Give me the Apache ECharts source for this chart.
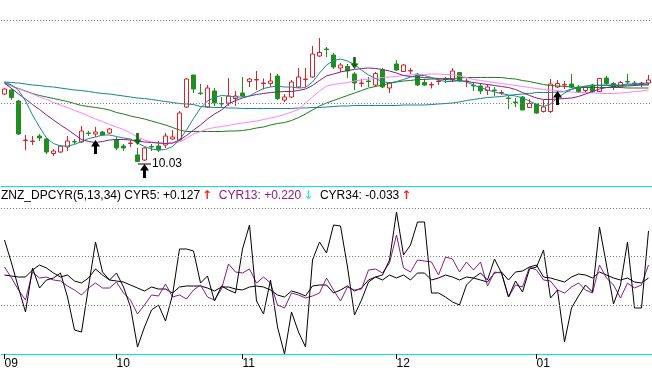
<!DOCTYPE html>
<html><head><meta charset="utf-8">
<script src="https://cdn.jsdelivr.net/npm/echarts@6/dist/echarts.min.js"></script>
<style>html,body{margin:0;padding:0;background:#fff}#c{width:652px;height:370px}</style>
</head><body><div id="c"></div><script>
const opens = [10.71,10.75,10.64,10.245,10.235,10.29,10.26,10.115,10.13,10.18,
10.235,10.23,10.32,10.31,10.33,10.32,10.25,10.19,10.215,10.10,
10.05,10.185,10.19,10.20,10.26,10.25,10.58,10.90,10.72,10.58,
10.74,10.615,10.62,10.665,10.72,10.835,10.85,10.815,10.815,10.89,
10.65,10.68,10.78,10.855,10.88,11.09,11.16,11.10,10.97,10.985,
10.91,10.815,10.84,10.80,10.95,10.77,11.01,10.935,10.94,10.91,
10.825,10.80,10.835,10.86,10.855,10.925,10.835,10.795,10.79,10.745,
10.75,10.72,10.67,10.63,10.68,10.575,10.61,10.535,10.535,10.78,
10.80,10.81,10.78,10.745,10.80,10.735,10.87,10.815,10.78,10.835,
10.82,10.815,10.82];
const closes = [10.76,10.675,10.31,10.25,10.24,10.27,10.13,10.14,10.19,10.24,
10.23,10.34,10.315,10.33,10.30,10.36,10.17,10.17,10.22,10.035,
10.17,10.18,10.15,10.29,10.28,10.52,10.86,10.76,10.715,10.77,
10.62,10.61,10.69,10.69,10.69,10.86,10.855,10.82,10.84,10.665,
10.68,10.83,10.88,10.86,11.11,11.125,11.155,10.98,11.00,10.94,
10.82,10.82,10.835,10.915,10.78,10.82,10.95,11.00,10.945,10.80,
10.80,10.805,10.84,10.855,10.94,10.84,10.84,10.79,10.74,10.78,
10.745,10.725,10.665,10.625,10.55,10.615,10.52,10.58,10.81,10.815,
10.805,10.78,10.735,10.775,10.735,10.865,10.815,10.775,10.825,10.83,
10.815,10.82,10.85];
const lows = [10.70,10.65,10.30,10.15,10.20,10.24,10.11,10.09,10.12,10.14,
10.21,10.22,10.29,10.28,10.29,10.31,10.15,10.14,10.18,10.03,
10.04,10.14,10.13,10.17,10.25,10.24,10.57,10.72,10.70,10.57,
10.59,10.58,10.59,10.59,10.68,10.78,10.75,10.755,10.78,10.65,
10.63,10.67,10.77,10.78,10.87,11.08,11.08,10.96,10.93,10.87,
10.75,10.78,10.78,10.78,10.77,10.72,10.94,10.93,10.91,10.79,
10.79,10.765,10.80,10.82,10.83,10.83,10.78,10.74,10.71,10.70,
10.69,10.70,10.56,10.58,10.55,10.57,10.51,10.525,10.52,10.77,
10.76,10.77,10.72,10.72,10.72,10.73,10.80,10.75,10.77,10.81,
10.79,10.78,10.80];
const highs = [10.77,10.77,10.65,10.30,10.29,10.31,10.27,10.16,10.20,10.29,
10.26,10.39,10.34,10.38,10.34,10.37,10.28,10.21,10.25,10.17,
10.18,10.21,10.24,10.32,10.35,10.54,10.87,10.90,10.81,10.80,
10.77,10.68,10.87,10.74,10.88,10.87,10.94,10.865,10.92,10.91,
10.71,10.85,10.97,10.97,11.19,11.27,11.18,11.12,11.02,11.01,
10.93,10.86,10.88,10.93,10.97,10.83,11.05,11.01,10.97,10.92,
10.865,10.83,10.865,10.88,10.97,10.93,10.865,10.83,10.82,10.81,
10.78,10.75,10.69,10.67,10.69,10.66,10.61,10.65,10.86,10.85,
10.84,10.91,10.80,10.78,10.81,10.87,10.89,10.83,10.84,10.91,
10.84,10.83,10.90];

const ma5 = [10.83,10.80,10.75,10.64,10.50,10.38,10.27,10.215,10.19,10.19,
10.205,10.235,10.265,10.28,10.30,10.30,10.285,10.27,10.26,10.22,
10.185,10.16,10.15,10.155,10.185,10.25,10.35,10.465,10.57,10.64,
10.675,10.695,10.69,10.68,10.68,10.69,10.73,10.765,10.78,10.79,
10.78,10.78,10.77,10.775,10.83,10.92,11.00,11.045,11.06,11.04,
11.005,10.95,10.90,10.865,10.835,10.82,10.835,10.855,10.88,10.895,
10.895,10.875,10.85,10.835,10.835,10.845,10.83,10.80,10.775,10.75,
10.73,10.715,10.70,10.69,10.67,10.64,10.605,10.585,10.61,10.67,
10.72,10.755,10.775,10.79,10.795,10.80,10.80,10.80,10.80,10.81,
10.81,10.815,10.82];
const ma10 = [10.82,10.765,10.71,10.66,10.605,10.555,10.50,10.45,10.40,10.355,
10.305,10.255,10.235,10.225,10.235,10.25,10.255,10.255,10.25,10.24,
10.23,10.225,10.22,10.215,10.22,10.25,10.295,10.35,10.40,10.46,
10.51,10.55,10.61,10.645,10.67,10.69,10.705,10.715,10.725,10.73,
10.735,10.735,10.745,10.76,10.795,10.845,10.89,10.91,10.93,10.945,
10.955,10.965,10.97,10.965,10.955,10.94,10.92,10.895,10.885,10.88,
10.875,10.87,10.865,10.855,10.85,10.845,10.835,10.825,10.815,10.805,
10.795,10.785,10.775,10.755,10.725,10.695,10.67,10.655,10.655,10.66,
10.665,10.67,10.685,10.71,10.735,10.76,10.775,10.785,10.79,10.79,
10.795,10.80,10.80];
const ma20 = [10.81,10.79,10.765,10.735,10.71,10.68,10.655,10.625,10.60,10.575,
10.545,10.52,10.49,10.46,10.435,10.405,10.38,10.355,10.32,10.28,
10.25,10.23,10.22,10.215,10.22,10.23,10.265,10.31,10.335,10.36,
10.375,10.385,10.395,10.41,10.42,10.43,10.44,10.455,10.47,10.485,
10.505,10.53,10.555,10.62,10.68,10.74,10.79,10.805,10.815,10.825,
10.84,10.85,10.86,10.865,10.875,10.88,10.885,10.895,10.90,10.905,
10.905,10.91,10.91,10.905,10.905,10.89,10.875,10.855,10.845,10.835,
10.825,10.815,10.805,10.795,10.785,10.775,10.765,10.755,10.75,10.745,
10.735,10.73,10.725,10.725,10.72,10.715,10.715,10.715,10.72,10.725,
10.735,10.74,10.75];
const ma30 = [10.82,10.79,10.765,10.74,10.715,10.695,10.68,10.665,10.65,10.635,
10.615,10.595,10.585,10.575,10.565,10.55,10.525,10.51,10.49,10.475,
10.46,10.44,10.42,10.40,10.375,10.35,10.335,10.335,10.335,10.335,
10.335,10.335,10.34,10.34,10.345,10.355,10.37,10.38,10.40,10.415,
10.425,10.445,10.475,10.51,10.55,10.59,10.62,10.645,10.67,10.695,
10.72,10.745,10.77,10.785,10.80,10.815,10.83,10.84,10.845,10.855,
10.855,10.86,10.86,10.865,10.865,10.87,10.875,10.875,10.875,10.875,
10.875,10.875,10.865,10.86,10.845,10.835,10.82,10.805,10.795,10.79,
10.785,10.78,10.775,10.775,10.775,10.775,10.775,10.775,10.775,10.77,
10.77,10.77,10.77];
const ma60 = [10.83,10.825,10.82,10.81,10.80,10.795,10.785,10.78,10.77,10.76,
10.75,10.745,10.735,10.725,10.715,10.71,10.70,10.69,10.68,10.67,
10.665,10.655,10.645,10.635,10.625,10.615,10.61,10.605,10.585,10.58,
10.575,10.575,10.57,10.57,10.565,10.565,10.565,10.565,10.565,10.565,
10.565,10.565,10.57,10.57,10.575,10.575,10.58,10.585,10.59,10.59,
10.595,10.595,10.595,10.595,10.595,10.595,10.595,10.60,10.60,10.60,
10.60,10.605,10.61,10.615,10.62,10.63,10.645,10.655,10.665,10.675,
10.68,10.685,10.695,10.705,10.71,10.715,10.725,10.725,10.725,10.73,
10.735,10.76,10.775,10.785,10.795,10.795,10.795,10.795,10.795,10.80,
10.805,10.805,10.81];

const cyr5 = [0.41,0.18,-0.07,-0.31,0.13,-0.07,0.01,0.03,0.08,-0.16,
-0.49,-0.51,-0.06,0.39,0.09,0.01,0.08,-0.06,-0.26,-0.66,
-0.46,-0.29,-0.24,-0.40,-0.14,0.32,0.32,0.30,-0.02,0.05,
-0.20,-0.05,-0.09,-0.12,0.32,0.56,-0.20,-0.33,0.01,-0.46,
-0.73,-0.31,-0.51,-0.66,0.21,0.39,0.28,0.56,0.55,0.14,
-0.34,-0.19,-0.01,0.04,0.06,0.21,0.69,0.26,0.36,0.59,
0.59,-0.12,-0.12,-0.16,-0.21,-0.24,-0.04,0.03,0.08,0.01,
0.22,0.08,-0.16,0.00,-0.11,0.12,0.14,0.31,-0.17,-0.09,
-0.61,-0.27,-0.15,-0.04,-0.11,0.54,0.16,-0.23,-0.04,0.39,
-0.27,-0.27,0.50];
const cyr13 = [0.14,0.03,-0.09,-0.19,0.09,0.03,0.04,0.01,0.00,-0.05,
-0.09,-0.14,-0.07,-0.02,-0.07,-0.07,-0.01,-0.12,-0.19,-0.33,
-0.24,-0.14,-0.15,-0.03,-0.16,-0.14,-0.18,-0.09,-0.04,-0.16,
-0.19,-0.08,0.17,0.09,0.08,0.12,-0.02,0.04,-0.02,-0.24,
-0.27,-0.12,-0.14,-0.17,-0.15,-0.12,0.03,-0.09,-0.20,-0.06,
-0.09,-0.08,0.11,0.12,0.08,0.18,0.46,0.13,0.09,0.21,
0.20,0.19,0.06,0.24,0.22,0.09,0.19,0.11,0.19,-0.05,
0.09,0.08,-0.16,-0.04,-0.06,0.14,0.11,0.01,0.00,-0.09,
-0.12,-0.06,-0.02,-0.09,-0.12,0.16,0.03,-0.04,-0.17,-0.02,
-0.07,-0.04,0.16];
const cyr34 = [0.06,0.05,0.04,0.04,0.11,0.16,0.13,0.08,0.04,0.06,
0.00,-0.02,0.03,0.12,0.06,0.01,0.00,-0.01,-0.04,-0.07,
-0.10,-0.06,-0.08,-0.08,-0.12,-0.06,-0.05,-0.05,-0.05,-0.07,
-0.10,-0.06,-0.06,-0.08,-0.09,-0.06,-0.05,-0.06,-0.09,-0.14,
-0.16,-0.10,-0.12,-0.15,-0.05,-0.04,-0.04,-0.12,-0.09,-0.05,
-0.10,-0.07,0.01,0.04,0.01,0.06,0.03,0.06,0.01,0.08,
0.08,0.01,0.03,0.06,0.04,0.01,0.04,0.03,0.01,-0.01,
0.08,0.09,0.01,0.09,0.10,0.14,0.16,0.04,0.03,0.01,
-0.01,0.04,0.07,0.06,0.03,0.09,0.06,0.03,0.01,0.03,
-0.01,-0.02,0.03];

const monthIdx = [0, 16, 34, 56, 76];
const monthLbl = ['09', '10', '11', '12', '01'];
const buySignals = [13, 20, 79];
const sellSignals = [19, 50];
const priceGuides = [11.45, 10.62];
const cyrGuides = [0.73, 0.25, -0.24];
const legendVals = ['+0.127', '+0.220', '-0.033'];
const priceRange = [9.79, 11.65];
const cyrRange = [-0.73, 0.73];

const FONT = '"Liberation Sans", Arial, sans-serif';
const RED = '#d8232a', GREEN = '#1f8f1f', CYAN = '#00e5ee';
const cats = opens.map((_, i) => String(i));
const candles = opens.map((o, i) => [o, closes[i], lows[i], highs[i]]);
const lowIdx = lows.indexOf(Math.min(...lows));
const upArrow = 'path://M4.5,0 L9,7 L6,7 L6,15 L3,15 L3,7 L0,7 Z';
const downArrow = 'path://M3,0 L6,0 L6,8 L9,8 L4.5,15 L0,8 L3,8 Z';
const guideStyle = {color: '#7a7a7a', type: [1, 2], width: 1};

function maLine(data, color) {
  return {type: 'line', data, xAxisIndex: 0, yAxisIndex: 0, symbol: 'none', silent: true,
    lineStyle: {color, width: 1}, z: 3};
}
function cyrLine(data, color, extra) {
  return Object.assign({type: 'line', data, xAxisIndex: 1, yAxisIndex: 1, symbol: 'none', silent: true,
    lineStyle: {color, width: 1}}, extra || {});
}
const isMonth = (idx) => monthIdx.indexOf(idx) >= 0;
const txt = {fontSize: 12, fontFamily: FONT, fontWeight: 'normal'};
const arrowTxt = {fontSize: 12, fontWeight: 'bold', fontFamily: '"DejaVu Sans"', padding: [0, 0, 0, 2]};

const chart = echarts.init(document.getElementById('c'), null, {renderer: 'canvas'});
chart.setOption({
  animation: false,
  backgroundColor: '#fff',
  title: {
    left: 1, top: 190, padding: 0,
    text: '{k|ZNZ_DPCYR(5,13,34) CYR5: ' + legendVals[0] + '}{r|↑}{p|  CYR13: ' + legendVals[1] +
      '}{c|↓}{k|  CYR34: ' + legendVals[2] + '}{r|↑}',
    textStyle: {
      fontWeight: 'normal', fontSize: 12, fontFamily: FONT,
      rich: {
        k: Object.assign({color: '#000'}, txt),
        p: Object.assign({color: '#8b1a8b'}, txt),
        r: Object.assign({color: '#ff2020'}, arrowTxt),
        c: Object.assign({color: '#40e0f0'}, arrowTxt)
      }
    }
  },
  grid: [
    {left: 1, right: 0, top: 0, height: 186, containLabel: false, outerBoundsMode: 'none'},
    {left: 1, right: 0, top: 208, height: 146, containLabel: false, outerBoundsMode: 'none'}
  ],
  xAxis: [
    {type: 'category', gridIndex: 0, data: cats, boundaryGap: true,
      axisLine: {show: true, onZero: false, lineStyle: {color: CYAN, width: 1}},
      axisTick: {show: false}, axisLabel: {show: false}, splitLine: {show: false}},
    {type: 'category', gridIndex: 1, data: cats, boundaryGap: true,
      axisLine: {show: true, onZero: false, lineStyle: {color: CYAN, width: 1}},
      axisTick: {show: true, alignWithLabel: true, length: 5, interval: isMonth, lineStyle: {color: '#000'}},
      axisLabel: {show: true, interval: isMonth, align: 'left', margin: 4, color: '#000', fontSize: 12,
        fontFamily: FONT, formatter: (v, idx) => monthLbl[monthIdx.indexOf(Number(v))] || ''},
      splitLine: {show: false}}
  ],
  yAxis: [
    {type: 'value', gridIndex: 0, min: priceRange[0], max: priceRange[1], show: false, splitLine: {show: false}},
    {type: 'value', gridIndex: 1, min: cyrRange[0], max: cyrRange[1], show: false, splitLine: {show: false}}
  ],
  series: [
    {
      type: 'candlestick', data: candles, xAxisIndex: 0, yAxisIndex: 0, barWidth: 5, silent: true,
      itemStyle: {color: '#fff', color0: GREEN, borderColor: RED, borderColor0: GREEN, borderWidth: 1},
      markLine: {silent: true, symbol: 'none', label: {show: false}, lineStyle: guideStyle,
        data: priceGuides.map(v => ({yAxis: v}))},
      markPoint: {
        silent: true,
        data: [
          ...buySignals.map(i => ({coord: [String(i), lows[i]], symbol: upArrow, symbolSize: [9, 14],
            symbolOffset: [0, 10], itemStyle: {color: '#000'}, label: {show: false}})),
          ...sellSignals.map(i => ({coord: [String(i), highs[i]], symbol: downArrow, symbolSize: [8, 12],
            symbolOffset: [0, -9], itemStyle: {color: '#0d660d'}, label: {show: false}})),
          {coord: [String(lowIdx), lows[lowIdx]], symbol: 'circle', symbolSize: 1,
            itemStyle: {color: 'rgba(0,0,0,0)'},
            label: {show: true, position: 'right', distance: 0, offset: [0, 2],
              formatter: '{ln|}{t|' + lows[lowIdx].toFixed(2) + '}',
              rich: {
                ln: {width: 13, height: 1, backgroundColor: '#000'},
                t: {color: '#000', fontSize: 12, fontFamily: FONT, padding: [0, 0, 0, 1]}
              }}}
        ]
      }
    },
    maLine(ma60, '#14858a'),
    maLine(ma30, '#1a7d1a'),
    maLine(ma20, '#ff80ff'),
    maLine(ma10, '#851c85'),
    maLine(ma5, '#178a8f'),
    cyrLine(cyr34, '#000', {markLine: {silent: true, symbol: 'none', label: {show: false}, lineStyle: guideStyle,
      data: cyrGuides.map(v => ({yAxis: v}))}}),
    cyrLine(cyr13, '#851c85'),
    cyrLine(cyr5, '#000')
  ]
});
</script></body></html>
